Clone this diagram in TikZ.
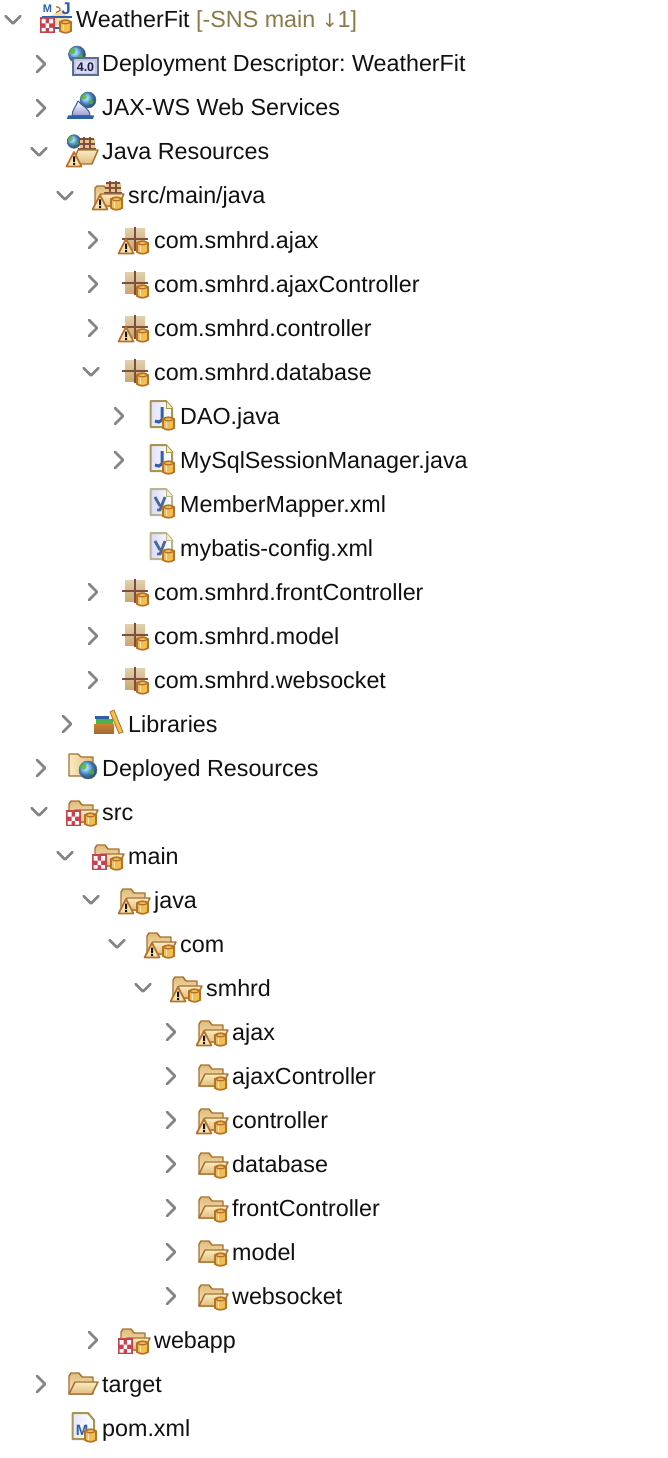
\documentclass[tikz,border=0pt]{standalone}
\usepackage{fontspec}
\setmainfont{Liberation Sans}
\newfontfamily\arrowfont{DejaVu Sans}
\frenchspacing
\definecolor{ink}{HTML}{111111}
\definecolor{olive}{HTML}{8A7A48}
\definecolor{chev}{HTML}{858585}
\definecolor{fedge}{HTML}{A5702F}
\definecolor{flight}{HTML}{FAEBC2}
\definecolor{fdark}{HTML}{E0BC7C}
\definecolor{gold}{HTML}{F2BE50}
\definecolor{goldedge}{HTML}{B5702A}
\definecolor{redchk}{HTML}{C8414E}
\definecolor{wood}{HTML}{7F4E3E}
\definecolor{tile}{HTML}{C9A96E}
\definecolor{navy}{HTML}{2F5FA8}
\definecolor{pageedge}{HTML}{A89650}
\definecolor{xmledge}{HTML}{B8B48C}
\tikzset{
  lbl/.style={anchor=base west,inner sep=0pt,text=ink,font=\fontsize{23.3}{26}\selectfont},
  chevline/.style={draw=chev,line width=2.6pt,line cap=round,line join=round},
  fline/.style={draw=fedge,line width=1.4pt,line join=round},
  chevr/.pic={\draw[chevline] (-4,-8) -- (4,0) -- (-4,8);},
  chevd/.pic={\draw[chevline] (-7.5,-4) -- (0,3.5) -- (7.5,-4);},
  folderopen/.pic={
    \draw[fline,top color=fdark,bottom color=flight] (-33,10) -- (-33,-8) -- (-31,-11) -- (-23,-11) -- (-20,-7) -- (-9,-7) -- (-9,0) -- (-9,10) -- cycle;
    \draw[fline,top color=flight,bottom color=fdark] (-33,10) -- (-27,-2) -- (-4,-2) -- (-10,10) -- cycle;
  },
  barrel/.pic={
    \fill[gold,draw=goldedge,line width=1.6pt] (-17,3) -- (-17,12) to[bend right=35] (-6,12) -- (-6,3) to[bend right=35] (-17,3) -- cycle;
    \draw[goldedge,line width=1.2pt] (-17,3) to[bend right=35] (-6,3);
    \draw[white!65!gold,line width=1.6pt] (-13.5,6) -- (-13.5,11.5);
  },
  checker/.pic={
    \fill[redchk] (-36,-2) rectangle (-21.5,14);
    \fill[white] (-34.5,0) rectangle (-30.5,4.5) (-27,0) rectangle (-23,4.5) (-30.5,4.5) rectangle (-27,9) (-34.5,9) rectangle (-30.5,12.5) (-27,9) rectangle (-23,12.5);
  },
  warn/.pic={
    \draw[draw=goldedge,fill=flight!85!gold,line width=1.7pt,line join=round] (-28,-1) -- (-20.5,13.5) -- (-35.5,13.5) -- cycle;
    \fill[ink] (-29,3.5) rectangle (-27,9) (-29,10) rectangle (-27,12);
  },
  pkggrid/.pic={
    \fill[top color=tile!55!white,bottom color=tile] (-29,-12) rectangle (-9,9);
    \draw[wood,line width=2pt] (-19,-13.5) -- (-19,10.5) (-32,-1) -- (-6,-1);
  },
  shipgrid/.pic={
    \fill[fdark!80!flight] (-22,-13) rectangle (-7,-3);
    \draw[wood,line width=2pt] (-22,-13) -- (-8,-13) (-23,-8) -- (-7,-8) (-24,-3) -- (-6,-3) (-18,-15) -- (-18,-3) (-12,-15) -- (-12,-3);
  },
  globe/.pic={
    \shade[ball color=blue!50!cyan!60!white,draw=navy!60!gray,line width=.5pt] (0,0) circle (1);
    \fill[green!45!olive,opacity=.8] (-.5,-.4) circle (.36) (.4,.25) circle (.28);
  },
  javafile/.pic={
    \draw[draw=pageedge,line width=2pt,left color=blue!12,right color=white,line join=round] (-29.5,-15) -- (-14,-15) -- (-8,-8) -- (-8,11) -- (-29.5,11) -- cycle;
    \draw[draw=pageedge,line width=1pt,fill=flight] (-14,-15) -- (-14,-8) -- (-8,-8);
    \draw[navy,line width=3pt] (-18,-9) -- (-18,4) to[bend left=50] (-25,5);
  },
  xmlfile/.pic={
    \draw[draw=xmledge,line width=2pt,left color=blue!15,right color=white,line join=round] (-29.5,-15) -- (-14,-15) -- (-8,-8) -- (-8,11) -- (-29.5,11) -- cycle;
    \draw[draw=xmledge,line width=1pt,fill=flight] (-14,-15) -- (-14,-8) -- (-8,-8);
    \draw[navy!70!gray,line width=2.8pt] (-25,-7) -- (-20,2) (-15,-7) -- (-20,6) -- (-23,6);
  },
}
\newcommand{\Row}[6]{% name, text x, y, chevron pic, icon pics, text
  \node[lbl] (#1) at (#2,#3+8) {#6};
  \begin{scope}[shift={(#2,#3)}]
    #4
    #5
  \end{scope}}
\newcommand{\CR}{\pic at (-61,0) {chevr};}
\newcommand{\CD}{\pic at (-63,0) {chevd};}
\begin{document}
\begin{tikzpicture}[x=1pt,y=-1pt]
\useasboundingbox (0,0) rectangle (668,1458);
\fill[white] (0,0) rectangle (668,1458);
% WeatherFit
\Row{r00}{76}{20}{\CD}{%
  \fill[flight!70!fdark] (-27,-3) -- (-17,-9) -- (-7,-3) -- (-7,6) -- (-27,6) -- cycle;
  \fill[navy] (-34,-3.8) rectangle (-4,-2.2);
  \draw[navy,line width=1.5pt] (-22,8) -- (-15,8);
  \node[inner sep=0pt,text=navy,font=\bfseries\fontsize{11}{11}\selectfont] (mk) at (-28.5,-11.5) {M};
  \node[inner sep=0pt,text=navy,font=\bfseries\fontsize{17}{17}\selectfont] (jk) at (-10,-11) {J};
  \draw[goldedge,line width=1.2pt] (-20,-13) to[bend left=70] (-16,-9.5) -- (-20,-7.5);
  \begin{scope}[shift={(0,-1)}]\pic{checker};\end{scope}
  \begin{scope}[shift={(1,-1)}]\pic{barrel};\end{scope}
}{WeatherFit \textcolor{olive}{[-SNS main {\arrowfont\fontsize{19}{26}\selectfont ↓}1]}}
% Deployment Descriptor
\Row{r01}{102}{64}{\CR}{%
  \pic[scale=8.5] at (-25,-9.5) {globe};
  \draw[draw=navy!50!gray,fill=blue!10!gray!40,line width=1.4pt] (-29,-6) rectangle (-4,11);
  \fill[white!85!blue] (-26,-3) rectangle (-7,9);
  \node[inner sep=0pt,text=ink!80!navy,font=\bfseries\fontsize{12.5}{12}\selectfont] (dd) at (-16.5,3) {4.0};
}{Deployment Descriptor: WeatherFit}
% JAX-WS
\Row{r02}{102}{108}{\CR}{%
  \pic[scale=8] at (-14,-8) {globe};
  \draw[draw=navy,line width=1pt,top color=white,bottom color=blue!35!gray!60] (-24,-7) to[out=-110,in=90] (-30,8) -- (-12,8) to[out=90,in=-50] (-24,-7);
  \fill[navy] (-34,7.5) -- (-8,7.5) -- (-9,11) -- (-35,11) -- cycle;
}{JAX-WS Web Services}
% Java Resources
\Row{r03}{102}{152}{\CD}{%
  \pic[scale=6.8] at (-28,-10.5) {globe};
  \pic {shipgrid};
  \draw[fline,top color=flight,bottom color=fdark] (-30,12) -- (-24,-2) -- (-4,-2) -- (-10,12) -- cycle;
  \begin{scope}[shift={(0,1)}]\pic{warn};\end{scope}
}{Java Resources}
% src/main/java
\Row{r04}{128}{196}{\CD}{%
  \draw[fline,top color=fdark,bottom color=flight] (-33,10) -- (-33,-8) -- (-31,-10) -- (-24,-10) -- (-21,-7) -- (-9,-7) -- (-9,10) -- cycle;
  \pic {shipgrid};
  \draw[fline,top color=flight,bottom color=fdark] (-33,10) -- (-27,-2) -- (-4,-2) -- (-10,10) -- cycle;
  \pic {warn};\pic {barrel};
}{src/main/java}
% Packages
\Row{r05}{154}{240}{\CR}{\pic{pkggrid};\pic{warn};\pic{barrel};}{com.smhrd.ajax}
\Row{r06}{154}{284}{\CR}{\pic{pkggrid};\pic{barrel};}{com.smhrd.ajaxController}
\Row{r07}{154}{328}{\CR}{\pic{pkggrid};\pic{warn};\pic{barrel};}{com.smhrd.controller}
\Row{r08}{154}{372}{\CD}{\pic{pkggrid};\pic{barrel};}{com.smhrd.database}
\Row{r09}{180}{416}{\CR}{\pic{javafile};\pic{barrel};}{DAO.java}
\Row{r10}{180}{460}{\CR}{\pic{javafile};\pic{barrel};}{MySqlSessionManager.java}
\Row{r11}{180}{504}{}{\pic{xmlfile};\pic{barrel};}{MemberMapper.xml}
\Row{r12}{180}{548}{}{\pic{xmlfile};\pic{barrel};}{mybatis-config.xml}
\Row{r13}{154}{592}{\CR}{\pic{pkggrid};\pic{barrel};}{com.smhrd.frontController}
\Row{r14}{154}{636}{\CR}{\pic{pkggrid};\pic{barrel};}{com.smhrd.model}
\Row{r15}{154}{680}{\CR}{\pic{pkggrid};\pic{barrel};}{com.smhrd.websocket}
% Libraries
\Row{r16}{128}{724}{\CR}{%
  \fill[top color=brown!75!orange,bottom color=brown!85!black] (-34,0) rectangle (-14,9);
  \fill[green!40!gray] (-32,-5) rectangle (-15,0);
  \fill[navy] (-33,-8) rectangle (-19,-5);
  \draw[goldedge,fill=gold,line width=.8pt] (-18,-12) -- (-14,-14) -- (-5,8) -- (-9,9.5) -- cycle;
}{Libraries}
% Deployed Resources
\Row{r17}{102}{768}{\CR}{%
  \draw[fline,left color=flight,right color=fdark] (-33,-14) -- (-24,-14) -- (-21,-11) -- (-9,-11) -- (-9,8) -- (-33,8) -- cycle;
  \pic[scale=9] at (-14,2) {globe};
}{Deployed Resources}
% src tree
\Row{r18}{102}{812}{\CD}{\pic{folderopen};\pic{checker};\pic{barrel};}{src}
\Row{r19}{128}{856}{\CD}{\pic{folderopen};\pic{checker};\pic{barrel};}{main}
\Row{r20}{154}{900}{\CD}{\pic{folderopen};\pic{warn};\pic{barrel};}{java}
\Row{r21}{180}{944}{\CD}{\pic{folderopen};\pic{warn};\pic{barrel};}{com}
\Row{r22}{206}{988}{\CD}{\pic{folderopen};\pic{warn};\pic{barrel};}{smhrd}
\Row{r23}{232}{1032}{\CR}{\pic{folderopen};\pic{warn};\pic{barrel};}{ajax}
\Row{r24}{232}{1076}{\CR}{\pic{folderopen};\pic{barrel};}{ajaxController}
\Row{r25}{232}{1120}{\CR}{\pic{folderopen};\pic{warn};\pic{barrel};}{controller}
\Row{r26}{232}{1164}{\CR}{\pic{folderopen};\pic{barrel};}{database}
\Row{r27}{232}{1208}{\CR}{\pic{folderopen};\pic{barrel};}{frontController}
\Row{r28}{232}{1252}{\CR}{\pic{folderopen};\pic{barrel};}{model}
\Row{r29}{232}{1296}{\CR}{\pic{folderopen};\pic{barrel};}{websocket}
\Row{r30}{154}{1340}{\CR}{\pic{folderopen};\pic{checker};\pic{barrel};}{webapp}
\Row{r31}{102}{1384}{\CR}{\pic{folderopen};}{target}
\Row{r32}{102}{1428}{}{%
  \draw[draw=pageedge,line width=2pt,left color=blue!10,right color=white,line join=round] (-29.5,-15) -- (-14,-15) -- (-8,-8) -- (-8,11) -- (-29.5,11) -- cycle;
  \node[inner sep=0pt,text=navy,font=\bfseries\fontsize{15}{15}\selectfont] (pm) at (-20,2) {M};
  \pic{barrel};
}{pom.xml}
\end{tikzpicture}
\end{document}
